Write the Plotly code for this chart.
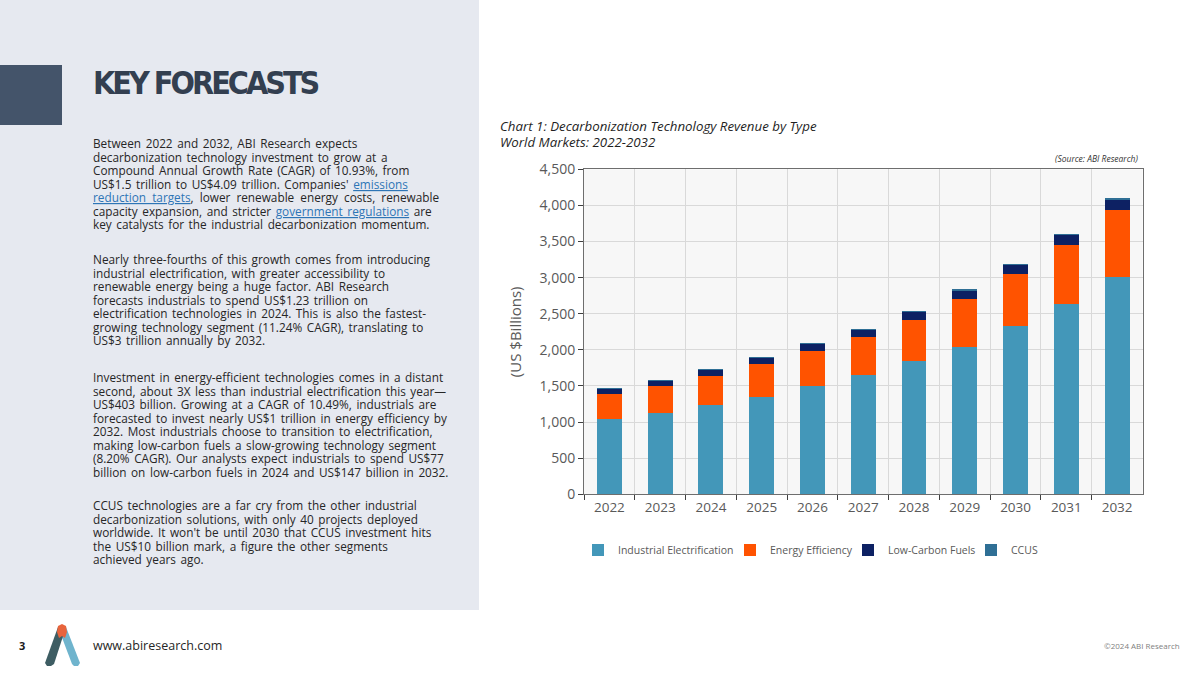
import plotly.graph_objects as go

W, H = 1200, 675
def px(x): return x / W
def py(y): return 1 - y / H

# ---------------- data ----------------
years = ["2022", "2023", "2024", "2025", "2026", "2027", "2028", "2029", "2030", "2031", "2032"]
industrial_electrification = [1041, 1124, 1239, 1354, 1499, 1655, 1840, 2044, 2326, 2636, 3011]
energy_efficiency = [347, 375, 403, 450, 480, 523, 574, 656, 721, 814, 924]
low_carbon_fuels = [70, 76, 77, 82, 100, 100, 108, 120, 125, 138, 147]
ccus = [1, 2, 2, 3, 4, 5, 6, 8, 10, 12, 14]
y_ticks = [0, 500, 1000, 1500, 2000, 2500, 3000, 3500, 4000, 4500]

series_names = ["Industrial Electrification", "Energy Efficiency", "Low-Carbon Fuels", "CCUS"]
series_values = [industrial_electrification, energy_efficiency, low_carbon_fuels, ccus]
series_colors = ["#4397b9", "#ff5300", "#0d2163", "#2f6f95"]

TXT = "Open Sans"
GRAY = "#595959"

# legend placement (one legend per series to match the spacing of the original)
legend_ids = ["legend", "legend2", "legend3", "legend4"]
legend_x_px = [578, 730, 848, 971]

fig = go.Figure()
for name, vals, col, lg in zip(series_names, series_values, series_colors, legend_ids):
    fig.add_trace(go.Bar(x=years, y=vals, name=name, legend=lg,
                         marker=dict(color=col, line=dict(width=0))))

legend_layout = {}
for lg, lx in zip(legend_ids, legend_x_px):
    legend_layout[lg] = dict(orientation="h", x=px(lx), y=py(550), xanchor="left", yanchor="middle",
                             font=dict(family=TXT, size=10.5, color=GRAY),
                             itemwidth=30, bgcolor="rgba(0,0,0,0)")

fig.update_layout(
    width=W, height=H,
    margin=dict(l=0, r=0, t=0, b=0, pad=0, autoexpand=False),
    paper_bgcolor="white",
    plot_bgcolor="#f7f7f7",
    barmode="stack",
    bargap=0.51,
    font=dict(family=TXT, color=GRAY),
    showlegend=True,
    xaxis=dict(domain=[px(584), px(1142.5)], type="category", tickson="boundaries",
               automargin=False,
               showgrid=True, gridcolor="#d9d9d9", gridwidth=1,
               showline=True, linecolor="#6e6e6e", linewidth=1, mirror=True,
               ticks="outside", ticklen=5, tickcolor="#404040",
               tickfont=dict(family=TXT, size=13.5, color=GRAY)),
    yaxis=dict(domain=[py(494.3), py(169.3)], range=[0, 4500], tickvals=y_ticks,
               automargin=False,
               tickformat=",", showgrid=True, gridcolor="#d9d9d9", gridwidth=1,
               zeroline=False,
               showline=True, linecolor="#6e6e6e", linewidth=1, mirror=True,
               ticks="outside", ticklen=5, tickcolor="#404040",
               tickfont=dict(family=TXT, size=14, color=GRAY),
               title=dict(text="(US $Billions)", font=dict(family=TXT, size=15, color=GRAY), standoff=14)),
    **legend_layout,
)

shapes = []
# left panel background
shapes.append(dict(type="rect", xref="paper", yref="paper", x0=0, x1=px(479), y0=py(610), y1=1,
                   fillcolor="#e6e9f0", line=dict(width=0), layer="below"))
# dark square
shapes.append(dict(type="rect", xref="paper", yref="paper", x0=0, x1=px(62), y0=py(125), y1=py(65),
                   fillcolor="#44546a", line=dict(width=0), layer="below"))

def path(points):
    return "M " + " L ".join(f"{px(x)},{py(y)}" for x, y in points) + " Z"

# logo: right leg light blue, left leg dark, orange top
shapes.append(dict(type="path", xref="paper", yref="paper",
                   path=path([(58, 627), (66, 627), (80, 663), (78, 666), (74, 666), (72, 664)]),
                   fillcolor="#6fb4cd", line=dict(width=0)))
shapes.append(dict(type="path", xref="paper", yref="paper",
                   path=path([(58, 627), (66, 627), (54, 664), (51, 666), (47, 666), (45, 663)]),
                   fillcolor="#3e5d63", line=dict(width=0)))
shapes.append(dict(type="path", xref="paper", yref="paper",
                   path=path([(58, 626), (62, 624), (66, 626), (67, 632), (65, 638), (62, 636), (59, 638), (57, 632)]),
                   fillcolor="#e8643c", line=dict(width=0)))
fig.update_layout(shapes=shapes)

ann = []
def text(x, y, s, size, color="#262626", family=TXT, xanchor="left", yanchor="middle"):
    ann.append(dict(xref="paper", yref="paper", x=px(x), y=py(y), text=s, showarrow=False,
                    xanchor=xanchor, yanchor=yanchor, align="left",
                    font=dict(family=family, size=size, color=color)))

text(91, 83, "<span style='letter-spacing:-3px'><b>KEY FORECASTS</b></span>", 32, color="#333f50",
     family="DejaVu Sans Condensed, Liberation Sans Narrow, sans-serif")

LINK = "#2e75b6"
def link(s):
    return f"<span style='color:{LINK}'><u>{s}</u></span>"

para1 = [
    "Between 2022 and 2032, ABI Research expects",
    "decarbonization technology investment to grow at a",
    "Compound Annual Growth Rate (CAGR) of 10.93%, from",
    "US$1.5 trillion to US$4.09 trillion. Companies' " + link("emissions"),
    link("reduction targets") + ", lower renewable energy costs, renewable",
    "capacity expansion, and stricter " + link("government regulations") + " are",
    "key catalysts for the industrial decarbonization momentum.",
]
para2 = [
    "Nearly three-fourths of this growth comes from introducing",
    "industrial electrification, with greater accessibility to",
    "renewable energy being a huge factor. ABI Research",
    "forecasts industrials to spend US$1.23 trillion on",
    "electrification technologies in 2024. This is also the fastest-",
    "growing technology segment (11.24% CAGR), translating to",
    "US$3 trillion annually by 2032.",
]
para3 = [
    "Investment in energy-efficient technologies comes in a distant",
    "second, about 3X less than industrial electrification this year\u2014",
    "US$403 billion. Growing at a CAGR of 10.49%, industrials are",
    "forecasted to invest nearly US$1 trillion in energy efficiency by",
    "2032. Most industrials choose to transition to electrification,",
    "making low-carbon fuels a slow-growing technology segment",
    "(8.20% CAGR). Our analysts expect industrials to spend US$77",
    "billion on low-carbon fuels in 2024 and US$147 billion in 2032.",
]
para4 = [
    "CCUS technologies are a far cry from the other industrial",
    "decarbonization solutions, with only 40 projects deployed",
    "worldwide. It won't be until 2030 that CCUS investment hits",
    "the US$10 billion mark, a figure the other segments",
    "achieved years ago.",
]
for start, lines in [(143.3, para1), (259.3, para2), (377.3, para3), (505, para4)]:
    for i, line in enumerate(lines):
        extra = "3px" if line.startswith("<span") else "1.5px"
        text(91, start + i * 13.5, f"<span style='word-spacing:{extra}'>{line}</span>", 11.8,
             color="#262626")

text(498, 126, "<i>Chart 1: Decarbonization Technology Revenue by Type</i>", 13.3, color="#1f1f1f")
text(498, 142, "<i>World Markets: 2022-2032</i>", 13.3, color="#1f1f1f")
text(1140, 158, "<i>(Source: ABI Research)</i>", 8.5, color="#333333", xanchor="right")

text(22, 645, "<b>3</b>", 11, color="#1a1a1a", xanchor="center")
text(91, 645, "www.abiresearch.com", 12.5, color="#262626")
text(1182, 645, "\u00a92024 ABI Research", 8, color="#7f7f7f", xanchor="right")

fig.update_layout(annotations=ann)
fig.write_html("out.html", config={"displayModeBar": False},
               post_script="document.body.style.margin='0';document.body.style.overflow='hidden';")
